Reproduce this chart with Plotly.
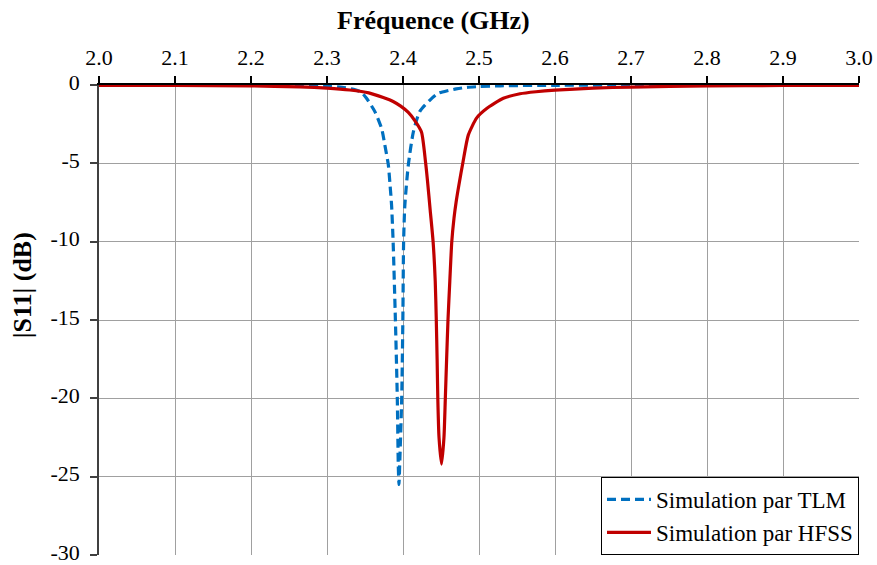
import plotly.graph_objects as go

# TLM simulation (blue dashed)
tlm_freq = [2.0, 2.1, 2.2, 2.25, 2.3, 2.32, 2.335, 2.345, 2.352, 2.363, 2.372, 2.376,
            2.3807, 2.383, 2.385, 2.387, 2.390, 2.3925, 2.3938, 2.3947, 2.3958,
            2.3983, 2.3998, 2.4008, 2.4024, 2.407, 2.4136, 2.422, 2.4355, 2.4465,
            2.46, 2.47, 2.484, 2.5, 2.528, 2.6, 2.7, 3.0]
tlm_s11 = [0.0, -0.01, -0.02, -0.04, -0.08, -0.15, -0.28, -0.45, -0.85, -1.7, -2.8, -3.8,
           -5.1, -6.4, -7.7, -10.0, -15.0, -20.0, -24.3, -25.5, -24.0,
           -20.0, -15.0, -10.0, -7.7, -5.1, -3.0, -1.7, -0.96, -0.53,
           -0.35, -0.25, -0.15, -0.1, -0.05, -0.02, -0.01, 0.0]

# HFSS simulation (red solid)
hfss_freq = [2.0, 2.1, 2.2, 2.264, 2.3, 2.33, 2.355, 2.374, 2.387, 2.397, 2.407, 2.416,
             2.4243, 2.4296, 2.4322, 2.4358, 2.4396, 2.4424, 2.4438, 2.4449, 2.4458,
             2.4474, 2.4507, 2.4539, 2.4557, 2.4574, 2.4592, 2.4616, 2.4642, 2.4671,
             2.4698, 2.4735, 2.479, 2.4859, 2.497, 2.5101, 2.532, 2.5539, 2.575,
             2.6, 2.65, 2.7, 2.8, 2.9, 3.0]
hfss_s11 = [-0.02, -0.03, -0.06, -0.12, -0.2, -0.32, -0.5, -0.8, -1.05, -1.35, -1.75, -2.3,
            -3.0, -4.9, -6.1, -8.0, -10.0, -12.5, -15.0, -17.5, -20.0,
            -22.5, -24.2, -22.5, -20.0, -17.5, -15.0, -12.5, -10.0, -8.5,
            -7.5, -6.4, -4.9, -3.2, -2.1, -1.5, -0.85, -0.56, -0.43,
            -0.33, -0.2, -0.13, -0.06, -0.03, -0.02]

x_ticks = [2.0, 2.1, 2.2, 2.3, 2.4, 2.5, 2.6, 2.7, 2.8, 2.9, 3.0]
y_ticks = [0, -5, -10, -15, -20, -25, -30]

FONT = "Liberation Serif"
TICK_FS = 22
LEG_FS = 23
TITLE_FS = 26

fig = go.Figure()
fig.add_trace(go.Scatter(x=tlm_freq, y=tlm_s11, mode="lines", name="Simulation par TLM",
                         line=dict(color="#0070C0", width=3.2, dash="9px,5px",
                                   shape="spline", smoothing=0.6)))
fig.add_trace(go.Scatter(x=hfss_freq, y=hfss_s11, mode="lines", name="Simulation par HFSS",
                         line=dict(color="#C00000", width=3.2,
                                   shape="spline", smoothing=0.6)))

fig.update_layout(
    width=877, height=565,
    margin=dict(l=99, r=18, t=85, b=10, autoexpand=False),
    paper_bgcolor="white", plot_bgcolor="white",
    font=dict(family=FONT, size=TICK_FS, color="black"),
    showlegend=True,
    legend=dict(x=1, y=0, xanchor="right", yanchor="bottom",
                bordercolor="black", borderwidth=1, bgcolor="white",
                font=dict(family=FONT, size=LEG_FS, color="black"),
                tracegroupgap=0, itemwidth=44),
    xaxis=dict(range=[2.0, 3.0], side="top", tickvals=x_ticks,
               ticktext=[f"{v:.1f}" for v in x_ticks],
               tickfont=dict(family=FONT, size=TICK_FS, color="black"),
               showgrid=True, gridcolor="#A0A0A0", gridwidth=1,
               showline=True, linecolor="black", linewidth=1.5,
               ticks="outside", ticklen=7, tickcolor="black", tickwidth=1.5,
               zeroline=False, layer="below traces", ticklabelstandoff=2,
               ticklabeloverflow="allow", automargin=False),
    yaxis=dict(range=[-30, 0], tickvals=y_ticks,
               ticktext=[str(v) for v in y_ticks],
               tickfont=dict(family=FONT, size=TICK_FS, color="black"),
               showgrid=True, gridcolor="#A0A0A0", gridwidth=1,
               showline=True, linecolor="#404040", linewidth=1.5,
               ticks="outside", ticklen=7, tickcolor="#404040", tickwidth=1.5,
               zeroline=False, ticklabelstandoff=6, ticklabeloverflow="allow",
               ticklabelshift=-3, automargin=False),
    annotations=[
        dict(text="<b>Fréquence (GHz)</b>", xref="paper", yref="paper",
             x=0.44, y=1, yshift=65, showarrow=False, xanchor="center", yanchor="middle",
             font=dict(family=FONT, size=TITLE_FS, color="black")),
        dict(text="<b>|S11| (dB)</b>", xref="paper", yref="paper",
             x=0, xshift=-77, y=0.574, showarrow=False, textangle=-90,
             xanchor="center", yanchor="middle",
             font=dict(family=FONT, size=TITLE_FS, color="black")),
    ],
)

# remove the browser's default 8px body margin so the figure fills the window
fig.write_html("out.html", config={"displayModeBar": False},
               post_script="document.body.style.margin='0';document.body.style.overflow='hidden';")
